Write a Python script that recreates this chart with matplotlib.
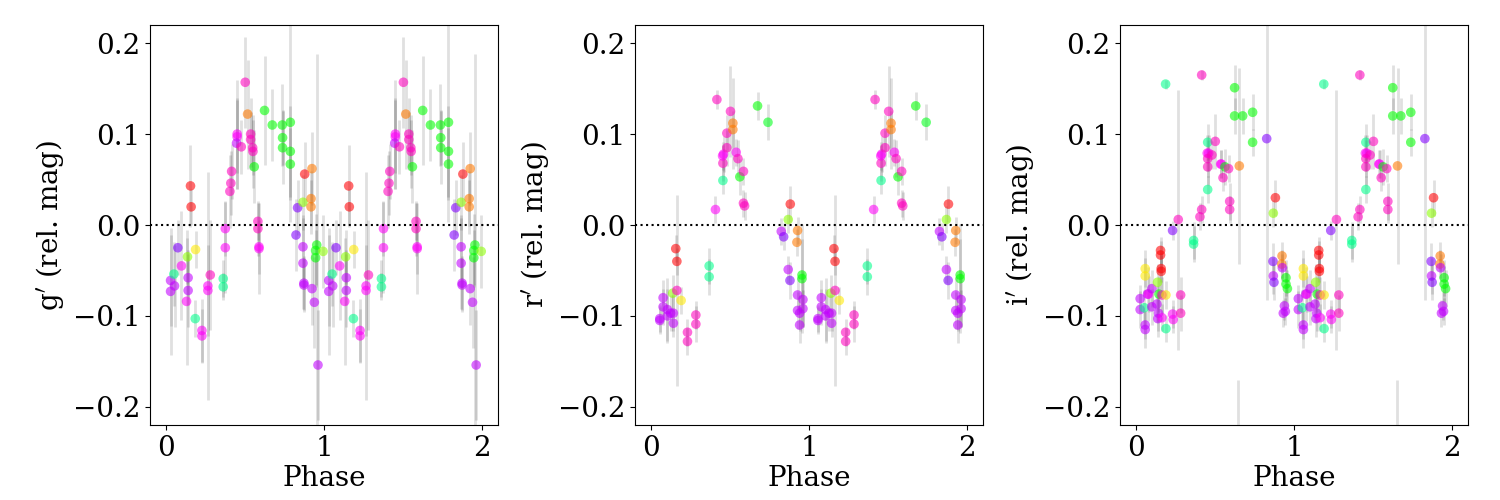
import numpy as np
import matplotlib
matplotlib.use('Agg')
import matplotlib.pyplot as plt

plt.rcParams['font.family'] = 'DejaVu Serif'
plt.rcParams['font.size'] = 20

# colour codes -> position in gist_rainbow
code_val = {'R': 0.03, 'O': 0.12, 'Y': 0.20, 'YG': 0.30, 'G': 0.40, 'G2': 0.42,
            'A': 0.50, 'V': 0.86, 'P': 0.91, 'M': 0.955, 'K': 1.0}

# g' band
g_phase = [0.030, 0.030, 0.051, 0.055, 0.076, 0.099, 0.137, 0.141, 0.141, 0.131,
           0.156, 0.160, 0.188, 0.186, 0.228, 0.228, 0.266, 0.266, 0.281, 0.363,
           0.363, 0.376, 0.376, 0.405, 0.411, 0.416, 0.451, 0.451, 0.447, 0.477,
           0.502, 0.517, 0.536, 0.536, 0.549, 0.551, 0.559, 0.582, 0.582, 0.589,
           0.589, 0.624, 0.673, 0.736, 0.738, 0.738, 0.787, 0.787, 0.787, 0.833,
           0.823, 0.867, 0.878, 0.924, 0.918, 0.918, 0.867, 0.867, 0.873, 0.873,
           0.924, 0.939, 0.962, 0.954, 0.947, 0.947, 0.994]
g_mag = [-0.061, -0.073, -0.054, -0.067, -0.025, -0.045, -0.035, -0.058, -0.072, -0.084,
         0.043, 0.020, -0.027, -0.103, -0.116, -0.122, -0.067, -0.072, -0.055, -0.059,
         -0.068, -0.004, -0.025, 0.037, 0.046, 0.059, 0.100, 0.097, 0.090, 0.086,
         0.157, 0.122, 0.100, 0.094, 0.085, 0.081, 0.064, 0.004, -0.004, -0.024,
         -0.026, 0.126, 0.110, 0.110, 0.096, 0.085, 0.113, 0.081, 0.067, 0.019,
         -0.011, 0.025, 0.056, 0.062, 0.029, 0.020, -0.024, -0.042, -0.064, -0.066,
         -0.070, -0.085, -0.154, -0.022, -0.028, -0.036, -0.029]
g_err = [0.05, 0.07, 0.035, 0.045, 0.03, 0.06, 0.03, 0.03, 0.04, 0.07,
         0.045, 0.02, 0.02, 0.02, 0.035, 0.03, 0.125, 0.05, 0.06, 0.02,
         0.015, 0.03, 0.05, 0.04, 0.035, 0.03, 0.06, 0.04, 0.05, 0.03,
         0.05, 0.06, 0.04, 0.03, 0.03, 0.04, 0.04, 0.02, 0.03, 0.03,
         0.05, 0.06, 0.04, 0.045, 0.03, 0.04, 0.11, 0.05, 0.04, 0.03,
         0.04, 0.03, 0.035, 0.04, 0.03, 0.03, 0.035, 0.05, 0.03, 0.03,
         0.04, 0.05, 0.06, 0.21, 0.04, 0.03, 0.04]
g_code = ['P', 'P', 'A', 'P', 'V', 'M', 'YG', 'P', 'P', 'M',
          'R', 'R', 'Y', 'A', 'M', 'M', 'M', 'M', 'K', 'A',
          'A', 'M', 'M', 'K', 'K', 'K', 'M', 'M', 'P', 'K',
          'K', 'O', 'K', 'K', 'K', 'K', 'G', 'K', 'K', 'M',
          'M', 'G', 'G', 'G', 'G', 'G', 'G', 'G', 'G', 'V',
          'V', 'YG', 'R', 'O', 'O', 'O', 'P', 'P', 'P', 'P',
          'P', 'P', 'P', 'G', 'G', 'G', 'YG']

# r' band
r_phase = [0.057, 0.057, 0.078, 0.078, 0.105, 0.105, 0.126, 0.143, 0.143, 0.139,
           0.165, 0.158, 0.165, 0.192, 0.232, 0.232, 0.285, 0.285, 0.369, 0.369,
           0.409, 0.418, 0.456, 0.456, 0.454, 0.460, 0.481, 0.481, 0.504, 0.519,
           0.519, 0.540, 0.551, 0.563, 0.586, 0.586, 0.593, 0.675, 0.741, 0.825,
           0.840, 0.869, 0.882, 0.928, 0.924, 0.869, 0.880, 0.928, 0.928, 0.941,
           0.962, 0.962, 0.941, 0.956, 0.956]
r_mag = [-0.103, -0.105, -0.080, -0.090, -0.093, -0.100, -0.097, -0.097, -0.108, -0.075,
         -0.072, -0.026, -0.040, -0.083, -0.118, -0.128, -0.099, -0.109, -0.045, -0.057,
         0.017, 0.138, 0.049, 0.068, 0.076, 0.078, 0.085, 0.101, 0.125, 0.112,
         0.105, 0.080, 0.073, 0.053, 0.059, 0.024, 0.021, 0.131, 0.113, -0.007,
         -0.013, 0.006, 0.023, -0.006, -0.019, -0.049, -0.061, -0.077, -0.094, -0.110,
         -0.082, -0.092, -0.097, -0.055, -0.059]
r_err = [0.015, 0.015, 0.02, 0.02, 0.035, 0.03, 0.02, 0.02, 0.015, 0.02,
         0.105, 0.015, 0.015, 0.015, 0.015, 0.015, 0.015, 0.02, 0.02, 0.02,
         0.015, 0.01, 0.015, 0.02, 0.015, 0.02, 0.02, 0.02, 0.05, 0.05,
         0.02, 0.015, 0.02, 0.02, 0.015, 0.015, 0.015, 0.015, 0.02, 0.015,
         0.015, 0.015, 0.02, 0.015, 0.015, 0.015, 0.02, 0.02, 0.02, 0.02,
         0.03, 0.02, 0.02, 0.04, 0.06]
r_code = ['P', 'P', 'P', 'P', 'P', 'P', 'P', 'P', 'P', 'YG',
          'K', 'R', 'R', 'Y', 'K', 'K', 'K', 'K', 'A', 'A',
          'M', 'K', 'A', 'K', 'M', 'M', 'K', 'K', 'K', 'O',
          'O', 'M', 'K', 'G', 'K', 'K', 'K', 'G', 'G2', 'P',
          'V', 'YG', 'R', 'O', 'O', 'P', 'V', 'P', 'P', 'P',
          'P', 'P', 'P', 'G', 'G']

# i' band
i_phase = [0.027, 0.027, 0.053, 0.059, 0.059, 0.059, 0.059, 0.074, 0.080, 0.101,
           0.101, 0.133, 0.137, 0.146, 0.143, 0.139, 0.156, 0.156, 0.160, 0.160,
           0.165, 0.165, 0.190, 0.190, 0.188, 0.232, 0.232, 0.236, 0.268, 0.283,
           0.283, 0.365, 0.365, 0.405, 0.416, 0.416, 0.454, 0.454, 0.451, 0.460,
           0.454, 0.454, 0.481, 0.502, 0.536, 0.541, 0.551, 0.563, 0.586, 0.593,
           0.593, 0.624, 0.624, 0.654, 0.675, 0.738, 0.738, 0.827, 0.867, 0.869,
           0.882, 0.869, 0.873, 0.924, 0.922, 0.926, 0.949, 0.949, 0.958, 0.939,
           0.932, 0.945, 0.648]
i_mag = [-0.081, -0.093, -0.091, -0.048, -0.056, -0.110, -0.115, -0.076, -0.076, -0.070,
         -0.090, -0.087, -0.063, -0.076, -0.097, -0.103, -0.028, -0.033, -0.048, -0.051,
         -0.102, -0.077, -0.077, -0.114, 0.155, -0.006, -0.098, -0.104, 0.006, -0.077,
         -0.097, -0.017, -0.021, 0.009, 0.017, 0.165, 0.091, 0.039, 0.079, 0.079,
         0.064, 0.073, 0.077, 0.092, 0.067, 0.067, 0.052, 0.064, 0.062, 0.026,
         0.017, 0.151, 0.120, 0.065, 0.120, 0.124, 0.091, 0.095, -0.040, 0.013,
         0.030, -0.056, -0.063, -0.034, -0.043, -0.047, -0.058, -0.065, -0.070, -0.089,
         -0.097, -0.095, -0.27]
i_err = [0.015, 0.02, 0.02, 0.02, 0.02, 0.015, 0.02, 0.03, 0.02, 0.02,
         0.02, 0.02, 0.02, 0.02, 0.02, 0.02, 0.015, 0.015, 0.015, 0.02,
         0.015, 0.02, 0.015, 0.015, 0.005, 0.01, 0.015, 0.015, 0.143, 0.02,
         0.02, 0.02, 0.02, 0.015, 0.015, 0.005, 0.02, 0.015, 0.02, 0.02,
         0.02, 0.02, 0.015, 0.03, 0.015, 0.015, 0.015, 0.02, 0.015, 0.02,
         0.015, 0.025, 0.02, 0.108, 0.02, 0.02, 0.015, 0.178, 0.02, 0.015,
         0.02, 0.02, 0.02, 0.015, 0.015, 0.015, 0.02, 0.02, 0.02, 0.015,
         0.015, 0.015, 0.10]
i_code = ['P', 'P', 'A', 'Y', 'Y', 'P', 'P', 'P', 'M', 'P',
          'P', 'P', 'YG', 'G', 'P', 'P', 'R', 'R', 'R', 'R',
          'M', 'K', 'Y', 'A', 'A', 'V', 'M', 'M', 'K', 'K',
          'K', 'A', 'A', 'K', 'K', 'K', 'A', 'A', 'M', 'M',
          'K', 'K', 'K', 'K', 'M', 'M', 'K', 'G', 'K', 'K',
          'K', 'G', 'G', 'O', 'G', 'G', 'G', 'V', 'V', 'YG',
          'R', 'P', 'V', 'O', 'O', 'P', 'G', 'G', 'G', 'P',
          'P', 'P', 'K']

bands = [("g$'$ (rel. mag)", g_phase, g_mag, g_err, g_code),
         ("r$'$ (rel. mag)", r_phase, r_mag, r_err, r_code),
         ("i$'$ (rel. mag)", i_phase, i_mag, i_err, i_code)]

cmap = plt.get_cmap('gist_rainbow')
fig = plt.figure(figsize=(15, 5), dpi=100)
lefts = [0.1, 0.4233, 0.7467]

for left, (label, ph, mag, err, code) in zip(lefts, bands):
    ax = fig.add_axes([left, 0.15, 0.232, 0.8])
    ph = np.array(ph)
    mag = np.array(mag)
    err = np.array(err)
    cols = cmap([code_val[c] for c in code])
    for shift in (0, 1):
        ax.errorbar(ph + shift, mag, yerr=err, fmt='none', ecolor='k',
                    alpha=0.12, elinewidth=2, zorder=1)
        ax.scatter(ph + shift, mag, c=cols, s=48, alpha=0.58,
                   edgecolors='none', zorder=2)
    ax.axhline(0, color='k', ls=':', lw=1.5, zorder=3)
    ax.set_xlim(-0.1, 2.1)
    ax.set_ylim(-0.22, 0.22)
    ax.set_xticks([0, 1, 2])
    ax.set_yticks([-0.2, -0.1, 0.0, 0.1, 0.2])
    ax.set_xlabel('Phase', labelpad=2)
    ax.set_ylabel(label, labelpad=4)

fig.savefig('out.png', dpi=100)
